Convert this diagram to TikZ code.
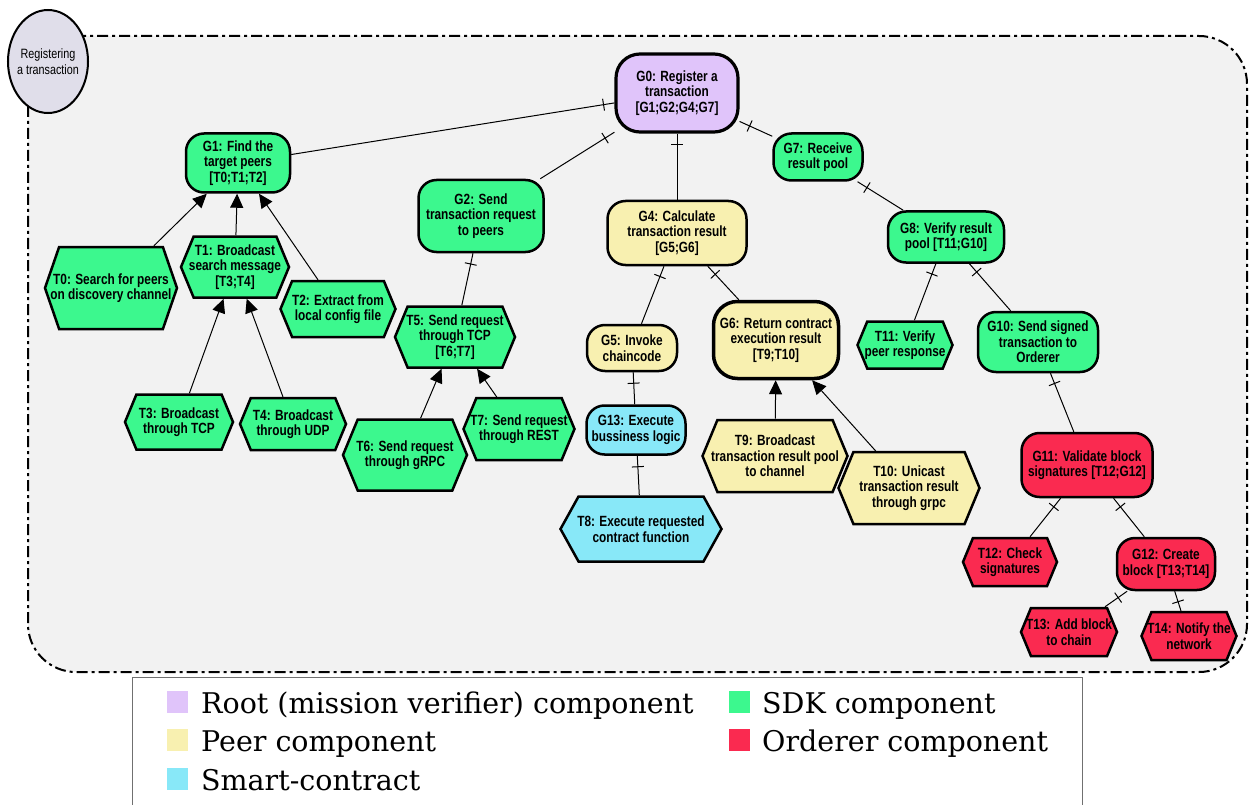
\documentclass[tikz,border=0pt]{standalone}
\usepackage{fontspec}
\setmainfont{DejaVu Serif}
\newfontfamily\nodefont{Liberation Sans}[FakeStretch=0.8]
\usetikzlibrary{shapes.symbols,shapes.geometric,arrows.meta,decorations.markings}
\definecolor{cRoot}{HTML}{E0C4FA}
\definecolor{cSDK}{HTML}{3CF88E}
\definecolor{cPeer}{HTML}{F8F0B0}
\definecolor{cOrd}{HTML}{FA2A50}
\definecolor{cSC}{HTML}{88E8F8}
\definecolor{cEll}{HTML}{E0DEEA}
\definecolor{cBg}{HTML}{F2F2F2}
\definecolor{cLeg}{HTML}{707070}
\begin{document}
\begin{tikzpicture}[x=1pt,y=-1pt,
  every node/.style={font=\nodefont\bfseries\fontsize{14.8}{15.5}\selectfont, align=center, inner sep=0pt},
  goal/.style={draw, line width=2.5pt, rounded corners=18pt},
  task/.style={draw, line width=2.5pt, signal, signal to=east and west, signal pointer angle=135, inner xsep=-10pt},
  sdk/.style={fill=cSDK}, root/.style={fill=cRoot}, peer/.style={fill=cPeer},
  ord/.style={fill=cOrd}, sc/.style={fill=cSC},
  andlink/.style={line width=1pt, postaction={decorate},
    decoration={markings, mark=at position 11pt with {\draw[line width=1pt] (0pt,-6pt)--(0pt,6pt);}}},
  melink/.style={line width=1pt, -{Triangle[length=14pt,width=13pt]}},
  legsq/.style={minimum width=21, minimum height=22, inner sep=0pt},
  legtxt/.style={font=\rmfamily\fontsize{28.5}{30}\selectfont, anchor=base west, inner sep=0pt}
]
\useasboundingbox (0,0) rectangle (1250,805);
% outer boundary
\draw[line width=2pt, fill=cBg, rounded corners=48pt, dash pattern=on 11pt off 4pt on 3pt off 4pt] (28,36) rectangle (1247,672);
\node[draw, line width=2pt, fill=cEll, ellipse, minimum width=80, minimum height=103, inner xsep=-4pt,
  font=\nodefont\fontsize{13.5}{16}\selectfont] (actor) at (48,61.5) {Registering\\a transaction};

% goals
\node[goal, root, line width=3.2pt, rounded corners=24pt, minimum width=122, minimum height=78] (G0) at (677,93) {G0: Register a\\transaction\\{[G1;G2;G4;G7]}};
\node[goal, sdk, minimum width=104, minimum height=59] (G1) at (238,163) {G1: Find the\\target peers\\{[T0;T1;T2]}};
\node[goal, sdk, minimum width=125, minimum height=72] (G2) at (481,216) {G2: Send\\transaction request\\to peers};
\node[goal, peer, minimum width=139, minimum height=64] (G4) at (677,233) {G4: Calculate\\transaction result\\{[G5;G6]}};
\node[goal, sdk, minimum width=89, minimum height=47] (G7) at (818,157) {G7: Receive\\result pool};
\node[goal, sdk, minimum width=116, minimum height=51] (G8) at (946,237) {G8: Verify result\\pool [T11;G10]};
\node[goal, sdk, minimum width=120, minimum height=60] (G10) at (1038,342) {G10: Send signed\\transaction to\\Orderer};
\node[goal, ord, minimum width=131, minimum height=64] (G11) at (1087,465) {G11: Validate block\\signatures [T12;G12]};
\node[goal, ord, minimum width=98, minimum height=52] (G12) at (1166,564) {G12: Create\\block [T13;T14]};
\node[goal, peer, minimum width=90, minimum height=46] (G5) at (632,348) {G5: Invoke\\chaincode};
\node[goal, sc, minimum width=99, minimum height=49] (G13) at (636,430) {G13: Execute\\bussiness logic};
\node[goal, peer, line width=3.5pt, rounded corners=24pt, minimum width=125, minimum height=77] (G6) at (776,340) {G6: Return contract\\execution result\\{[T9;T10]}};

% tasks
\node[task, sdk, signal pointer angle=142, minimum width=132, minimum height=82] (T0) at (111,288) {T0: Search for peers\\on discovery channel};
\node[task, sdk, minimum width=108, minimum height=61] (T1) at (235,267) {T1: Broadcast\\search message\\{[T3;T4]}};
\node[task, sdk, minimum width=115, minimum height=56] (T2) at (338,309) {T2: Extract from\\local config file};
\node[task, sdk, minimum width=108, minimum height=55] (T3) at (179,422) {T3: Broadcast\\through TCP};
\node[task, sdk, minimum width=106, minimum height=52] (T4) at (293,424) {T4: Broadcast\\through UDP};
\node[task, sdk, minimum width=120, minimum height=61] (T5) at (455,337) {T5: Send request\\through TCP\\{[T6;T7]}};
\node[task, sdk, minimum width=124, minimum height=71] (T6) at (405,455) {T6: Send request\\through gRPC};
\node[task, sdk, minimum width=111, minimum height=62] (T7) at (519,429) {T7: Send request\\through REST};
\node[task, sc, signal pointer angle=122, minimum width=161, minimum height=65] (T8) at (641,529) {T8: Execute requested\\contract function};
\node[task, peer, minimum width=145, minimum height=72] (T9) at (775,456) {T9: Broadcast\\transaction result pool\\to channel};
\node[task, peer, minimum width=141, minimum height=72] (T10) at (909,488) {T10: Unicast\\transaction result\\through grpc};
\node[task, sdk, minimum width=95, minimum height=47] (T11) at (905,345) {T11: Verify\\peer response};
\node[task, ord, minimum width=94, minimum height=48] (T12) at (1010,562) {T12: Check\\signatures};
\node[task, ord, minimum width=96, minimum height=48] (T13) at (1069,632) {T13: Add block\\to chain};
\node[task, ord, minimum width=95, minimum height=48] (T14) at (1189,636) {T14: Notify the\\network};

% and-decomposition links (parent -> child)
\draw[andlink] (G0) -- (G1);
\draw[andlink] (G0) -- (G2);
\draw[andlink] (G0) -- (G4);
\draw[andlink] (G0) -- (G7);
\draw[andlink] (G7) -- (G8);
\draw[andlink] (G8) -- (T11);
\draw[andlink] (G8) -- (G10);
\draw[andlink] (G10) -- (G11);
\draw[andlink] (G11) -- (T12);
\draw[andlink] (G11) -- (G12);
\draw[andlink] (G12) -- (T13);
\draw[andlink] (G12) -- (T14);
\draw[andlink] (G2) -- (T5);
\draw[andlink] (G4) -- (G5);
\draw[andlink] (G4) -- (G6);
\draw[andlink] (G5) -- (G13);
\draw[andlink] (G13) -- (T8);

% means-end links (child -> parent)
\draw[melink] (T0) -- (G1);
\draw[melink] (T1) -- (G1);
\draw[melink] (T2) -- (G1);
\draw[melink] (T3) -- (T1);
\draw[melink] (T4) -- (T1);
\draw[melink] (T6) -- (T5);
\draw[melink] (T7) -- (T5);
\draw[melink] (T9) -- (G6);
\draw[melink] (T10) -- (G6);

% legend
\draw[cLeg, line width=1pt, fill=white] (132,810) -- (132,677) -- (1082,677) -- (1082,810);
\node[legsq, fill=cRoot] (L1) at (177.5,702) {};
\node[legtxt] (L1t) at (201,713) {Root (mission verifier) component};
\node[legsq, fill=cPeer] (L2) at (177.5,740) {};
\node[legtxt] (L2t) at (201,751) {Peer component};
\node[legsq, fill=cSC] (L3) at (177.5,779) {};
\node[legtxt] (L3t) at (201,790) {Smart-contract};
\node[legsq, fill=cSDK] (L4) at (739.5,702) {};
\node[legtxt] (L4t) at (762,713) {SDK component};
\node[legsq, fill=cOrd] (L5) at (739.5,740) {};
\node[legtxt] (L5t) at (762,751) {Orderer component};
\end{tikzpicture}
\end{document}
